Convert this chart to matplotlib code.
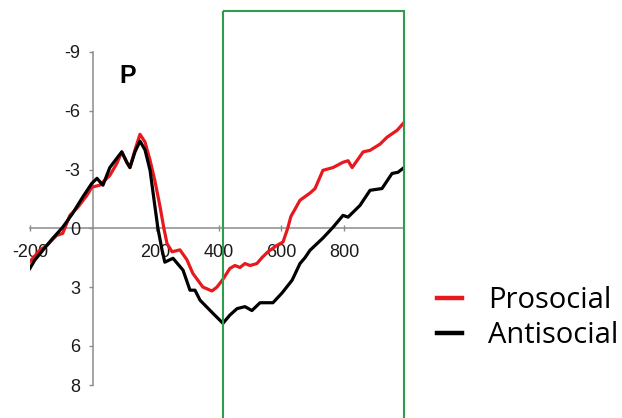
import matplotlib.pyplot as plt
from matplotlib.patches import Rectangle

plt.rcParams['axes.unicode_minus'] = False

# ERP waveforms at electrode P (µV, negative plotted upward)
t_pro = [-200, -169, -146, -115, -96, -73, -48, -19, -3, 22, 38, 54, 76, 92, 108, 118,
         134, 150, 166, 182, 197, 213, 226, 236, 252, 277, 299, 318, 350, 379, 395, 414,
         436, 452, 468, 484, 500, 522, 538, 557, 586, 605, 620, 630, 659, 691, 707, 732,
         764, 796, 812, 825, 860, 882, 914, 936, 968, 990]
v_pro = [1.7, 1.12, 0.87, 0.36, 0.26, -0.66, -1.07, -1.68, -2.1, -2.2, -2.45, -2.7, -3.3, -3.9, -3.37, -3.1,
         -4.0, -4.8, -4.4, -3.47, -2.45, -1.17, 0.0, 0.78, 1.2, 1.1, 1.6, 2.3, 3.0, 3.2, 3.0, 2.6,
         2.05, 1.9, 2.0, 1.8, 1.9, 1.8, 1.5, 1.2, 0.87, 0.7, 0.0, -0.6, -1.43, -1.8, -2.03, -2.96,
         -3.1, -3.37, -3.45, -3.1, -3.9, -3.98, -4.3, -4.65, -5.0, -5.4]

t_anti = [-200, -185, -153, -127, -96, -64, -32, -3, 13, 32, 54, 76, 92, 108, 118, 134,
          150, 166, 182, 197, 207, 220, 229, 255, 287, 309, 325, 341, 382, 414, 436, 459,
          484, 506, 532, 573, 602, 634, 659, 675, 691, 732, 764, 796, 812, 850, 882, 920,
          952, 971, 990]
v_anti = [2.04, 1.63, 1.0, 0.5, -0.05, -0.77, -1.6, -2.3, -2.55, -2.2, -3.1, -3.57, -3.9, -3.37, -3.1, -3.9,
          -4.45, -4.0, -2.96, -1.17, 0.0, 1.1, 1.73, 1.53, 2.14, 3.16, 3.16, 3.67, 4.34, 4.85, 4.43, 4.1,
          4.0, 4.2, 3.8, 3.8, 3.3, 2.65, 1.8, 1.5, 1.12, 0.5, -0.05, -0.66, -0.57, -1.17, -1.94, -2.03,
          -2.8, -2.86, -3.1]

x_ticks = [-200, 200, 400, 600, 800]
y_ticks = [-9, -6, -3, 0, 3, 6, 8]
window = (414, 990)

W, H = 622, 418
fig = plt.figure(figsize=(W / 100, H / 100), dpi=100)
ax = fig.add_axes([30 / W, (H - 385) / H, 374 / W, 333 / H])

ax.plot(t_pro, v_pro, color='#e8191e', lw=2.3, solid_joinstyle='round', label='Prosocial')
ax.plot(t_anti, v_anti, color='black', lw=2.3, solid_joinstyle='round', label='Antisocial')

ax.set_xlim(-200, 990)
ax.set_ylim(8, -9)

for s in ['top', 'right']:
    ax.spines[s].set_visible(False)
ax.spines['left'].set_position(('data', 0))
ax.spines['bottom'].set_position(('data', 0))
for s in ['left', 'bottom']:
    ax.spines[s].set_color('#8c8c8c')
    ax.spines[s].set_linewidth(1.1)
    ax.spines[s].set_zorder(0)

ax.set_xticks(x_ticks)
ax.set_yticks(y_ticks)
ax.set_yticklabels([str(v) for v in y_ticks])
ax.tick_params(axis='x', direction='inout', length=4, width=1, color='#8c8c8c',
               labelsize=13, pad=9, labelcolor='#1a1a1a')
ax.tick_params(axis='y', direction='out', length=3, width=1, color='#8c8c8c',
               labelsize=13, pad=6, labelcolor='#1a1a1a')
for lab in ax.get_xticklabels() + ax.get_yticklabels():
    lab.set_fontfamily('Liberation Sans')

ax.text(111, -7.75, 'P', fontsize=18, fontweight='bold', family='Liberation Sans',
        ha='center', va='center')

# analysis window
ax.add_patch(Rectangle((window[0], -11.07), window[1] - window[0], 30, fill=False,
                       edgecolor='#2e9e4e', lw=1.5, clip_on=False, zorder=3))

leg = ax.legend(loc='upper left', bbox_to_anchor=(437 / W, (H - 286) / H),
                bbox_transform=fig.transFigure, frameon=False, borderpad=0,
                borderaxespad=0, handlelength=0.86, handletextpad=0.9,
                labelspacing=0.2, prop={'family': 'Open Sans', 'size': 21})
for line in leg.get_lines():
    line.set_linewidth(3.2)

fig.savefig('out.png', dpi=100)
